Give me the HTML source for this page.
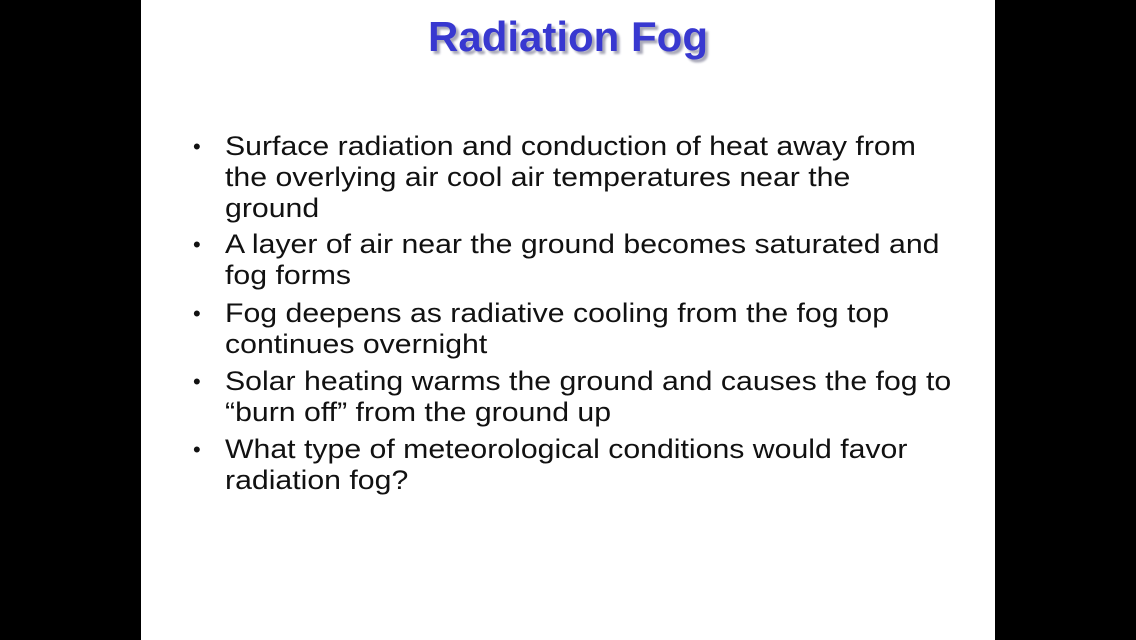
<!DOCTYPE html>
<html><head><meta charset="utf-8"><style>
html,body{margin:0;padding:0;width:1136px;height:640px;background:#000;overflow:hidden}
#slide{position:absolute;left:141px;top:0;width:854px;height:640px;background:#fff}
#title{position:absolute;left:0;width:1136px;top:13px;text-align:center;font-family:"Liberation Sans",sans-serif;font-weight:bold;font-size:42px;color:#3838d0;text-shadow:3px 3px 2px #a8a8b8}
.l{position:absolute;left:225px;font-family:"Liberation Sans",sans-serif;font-size:27px;color:#111;white-space:nowrap;line-height:31px;transform:scaleX(1.12);transform-origin:0 0}
.b{position:absolute;left:193px;font-family:"Liberation Sans",sans-serif;font-size:22px;color:#111;line-height:31px}
</style></head><body>
<div id="slide"></div>
<div id="title">Radiation Fog</div>
<div>
<div class="b" style="top:131px">•</div>
<div class="l" style="top:131px">Surface radiation and conduction of heat away from</div>
<div class="l" style="top:162px">the overlying air cool air temperatures near the</div>
<div class="l" style="top:193px">ground</div>
<div class="b" style="top:229px">•</div>
<div class="l" style="top:229px">A layer of air near the ground becomes saturated and</div>
<div class="l" style="top:260px">fog forms</div>
<div class="b" style="top:298px">•</div>
<div class="l" style="top:298px">Fog deepens as radiative cooling from the fog top</div>
<div class="l" style="top:329px">continues overnight</div>
<div class="b" style="top:366px">•</div>
<div class="l" style="top:366px">Solar heating warms the ground and causes the fog to</div>
<div class="l" style="top:397px">“burn off” from the ground up</div>
<div class="b" style="top:434px">•</div>
<div class="l" style="top:434px">What type of meteorological conditions would favor</div>
<div class="l" style="top:465px">radiation fog?</div>
</div>
</body></html>
